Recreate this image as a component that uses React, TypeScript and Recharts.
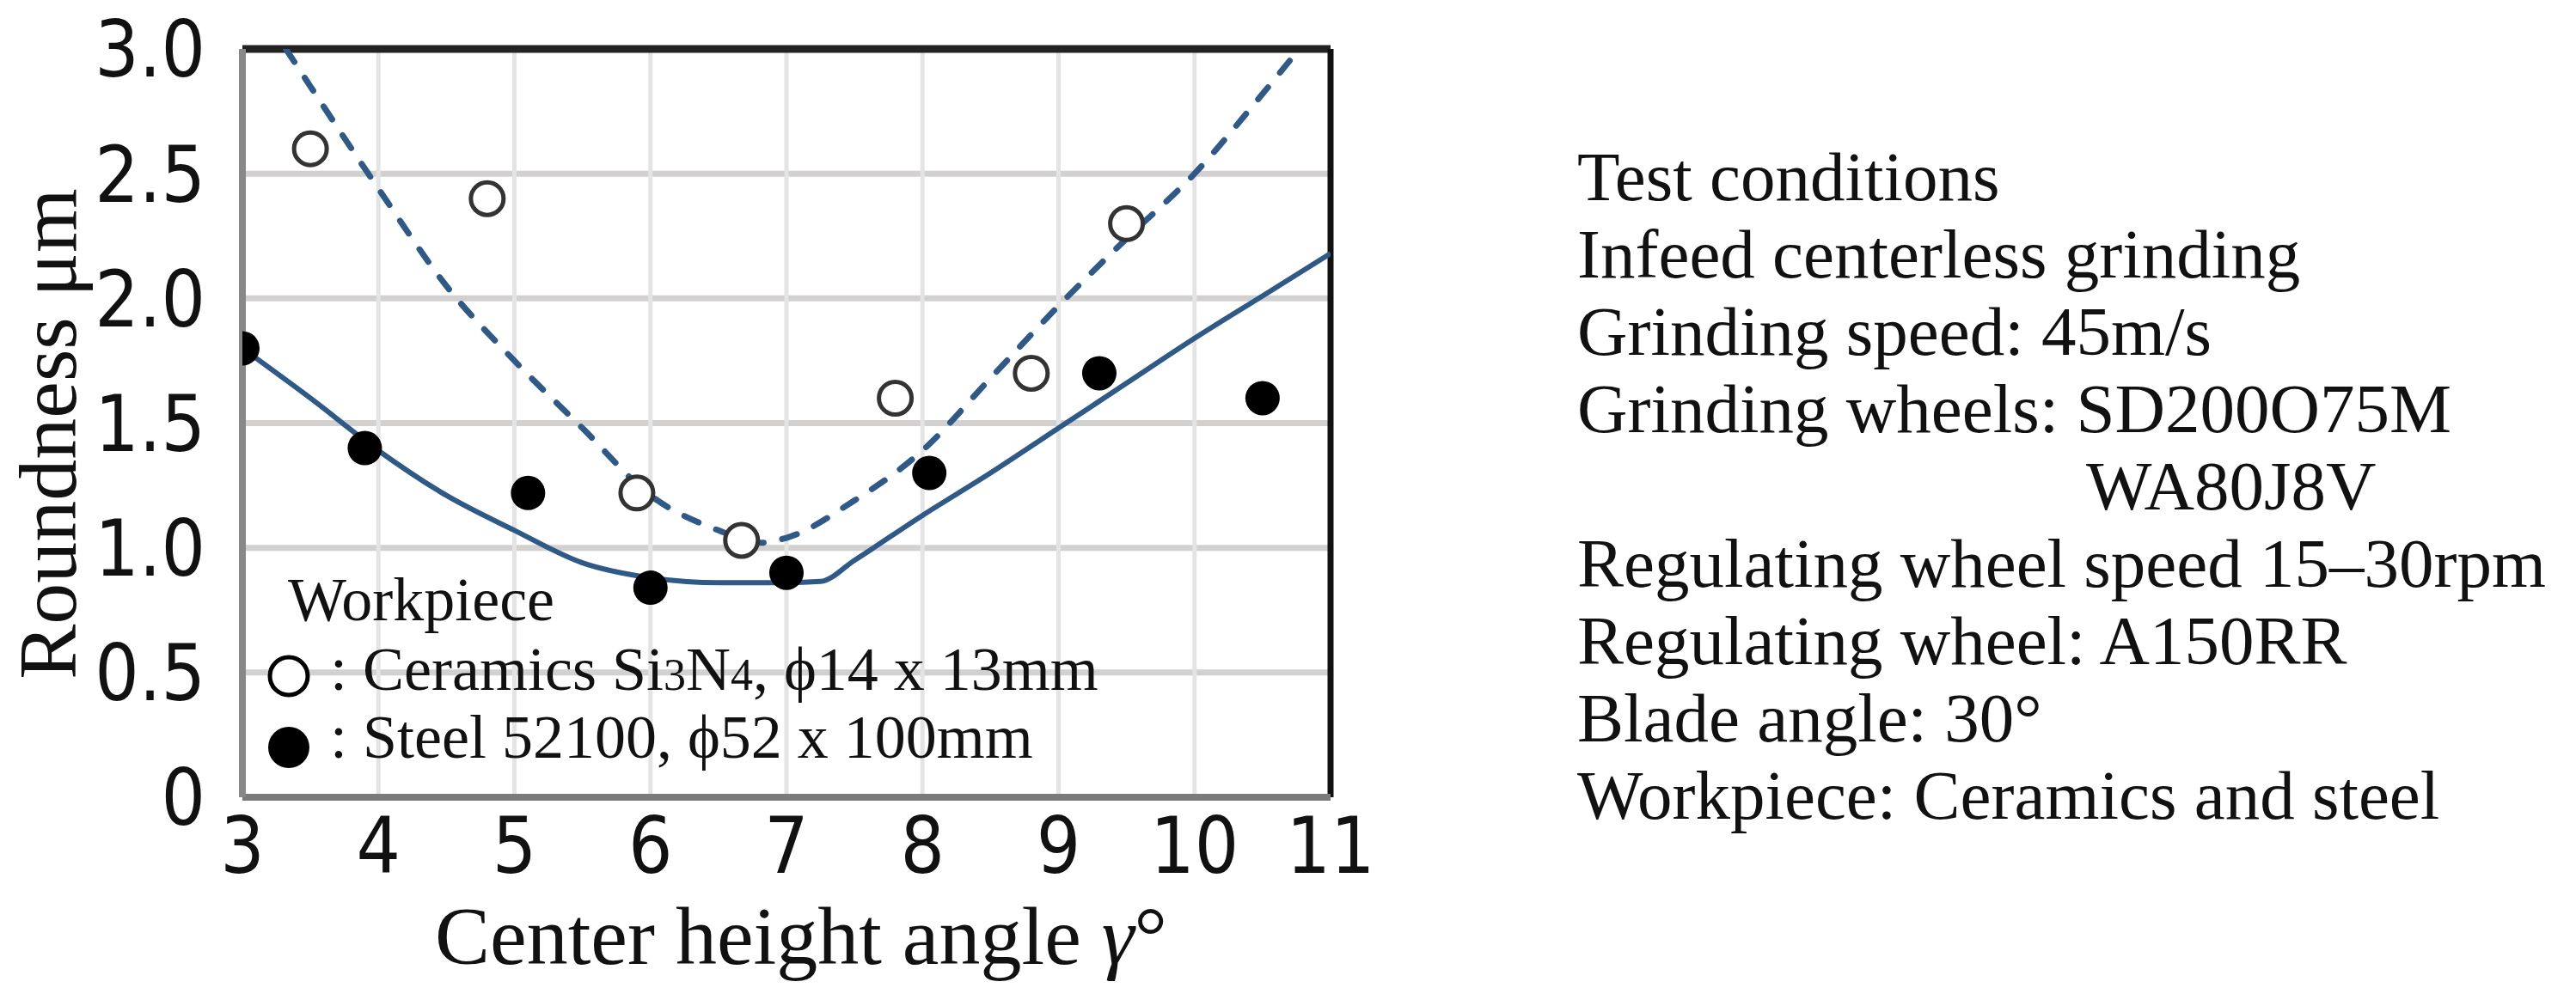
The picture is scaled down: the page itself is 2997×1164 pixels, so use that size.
import React from 'react';
import { ComposedChart, Line, Scatter, XAxis, YAxis, CartesianGrid, ReferenceLine } from 'recharts';

const W = 2997;
const H = 1164;

const xTicks = [3, 4, 5, 6, 7, 8, 9, 10, 11];
const yTicks = [0, 0.5, 1, 1.5, 2, 2.5, 3];

// measured points
const ceramicsX = [3.5, 4.8, 5.9, 6.67, 7.8, 8.8, 9.5];
const ceramicsY = [2.6, 2.4, 1.22, 1.03, 1.6, 1.7, 2.3];
const steelX = [3.0, 3.9, 5.1, 6.0, 7.0, 8.05, 9.3, 10.5];
const steelY = [1.8, 1.4, 1.22, 0.84, 0.9, 1.3, 1.7, 1.6];

// fitted curves
const ceramicsFitX = [3.32, 3.5, 4.0, 4.5, 5.0, 5.5, 6.0, 6.5, 6.8, 7.0, 7.5, 8.0, 8.5, 9.0, 9.5, 10.0, 10.5, 10.77];
const ceramicsFitY = [3.0, 2.85, 2.44, 2.05, 1.75, 1.48, 1.21, 1.07, 1.02, 1.04, 1.19, 1.39, 1.68, 1.97, 2.24, 2.5, 2.82, 3.0];
const steelFitX = [3.0, 3.5, 4.0, 4.5, 5.0, 5.5, 6.0, 6.5, 7.0, 7.25, 7.5, 8.0, 8.5, 9.0, 9.5, 10.0, 10.5, 11.0];
const steelFitY = [1.8, 1.6, 1.39, 1.21, 1.07, 0.94, 0.88, 0.86, 0.86, 0.865, 0.95, 1.13, 1.3, 1.48, 1.66, 1.84, 2.01, 2.18];

const conditions = [
  'Test conditions',
  'Infeed centerless grinding',
  'Grinding speed: 45m/s',
  'Grinding wheels: SD200O75M',
  'WA80J8V',
  'Regulating wheel speed 15–30rpm',
  'Regulating wheel: A150RR',
  'Blade angle: 30°',
  'Workpiece: Ceramics and steel',
];

const zip = (xs: number[], ys: number[]) => xs.map((x, i) => ({ x, y: ys[i] }));

const SERIF = "'Liberation Serif', 'DejaVu Serif', serif";
const NARROW = "'Liberation Sans Narrow', 'DejaVu Sans Condensed', Lato, sans-serif";
const LINE = '#2f5a87';

const XTick = (props: any) => (
  <text x={props.x} y={1016} textAnchor="middle" fontFamily={NARROW} fontSize={90} fill="#111">
    {props.payload.value}
  </text>
);

const YTick = (props: any) => {
  const v = props.payload.value;
  return (
    <text x={239} y={props.y} dy="0.36em" textAnchor="end" fontFamily={NARROW} fontSize={90} fill="#111">
      {v === 0 ? '0' : v.toFixed(1)}
    </text>
  );
};

export default function App() {
  return (
    <div style={{ position: 'relative', width: W, height: H, background: '#fff' }}>
      <style>{'body{margin:0}'}</style>
      <ComposedChart width={W} height={H} margin={{ top: 57, right: 1449, bottom: 136, left: 182 }}>
        <CartesianGrid vertical={false} stroke="#d3d0d0" strokeWidth={7} />
        <CartesianGrid horizontal={false} stroke="#e4e4e4" strokeWidth={5} />
        <XAxis
          type="number"
          dataKey="x"
          domain={[3, 11]}
          ticks={xTicks}
          interval={0}
          allowDataOverflow
          height={100}
          tickLine={false}
          axisLine={{ stroke: '#7b7b7b', strokeWidth: 8 }}
          tick={XTick}
        />
        <YAxis
          type="number"
          dataKey="y"
          domain={[0, 3]}
          ticks={yTicks}
          interval={0}
          allowDataOverflow
          width={100}
          tickLine={false}
          axisLine={{ stroke: '#888', strokeWidth: 8 }}
          tick={YTick}
        />
        <ReferenceLine y={3} stroke="#222" strokeWidth={9} />
        <ReferenceLine x={11} stroke="#111" strokeWidth={7} />
        <Line
          data={zip(steelFitX, steelFitY)}
          dataKey="y"
          type="monotone"
          stroke={LINE}
          strokeWidth={6}
          dot={false}
          isAnimationActive={false}
        />
        <Line
          data={zip(ceramicsFitX, ceramicsFitY)}
          dataKey="y"
          type="monotone"
          stroke={LINE}
          strokeWidth={7}
          strokeDasharray="18 22"
          strokeLinecap="round"
          dot={false}
          isAnimationActive={false}
        />
        <Scatter
          data={zip(ceramicsX, ceramicsY)}
          isAnimationActive={false}
          shape={(p: any) => <circle cx={p.cx} cy={p.cy} r={19} fill="#fff" stroke="#333" strokeWidth={5} />}
        />
        <Scatter
          data={zip(steelX, steelY)}
          isAnimationActive={false}
          shape={(p: any) => <circle cx={p.cx} cy={p.cy} r={20} fill="#000" />}
        />
      </ComposedChart>

      <svg width={W} height={H} style={{ position: 'absolute', left: 0, top: 0, pointerEvents: 'none' }}>
        <text transform="translate(88,505) rotate(-90)" textAnchor="middle" fontFamily={SERIF} fontSize={96} fill="#111">
          Roundness μm
        </text>
        <text x={932} y={1122} textAnchor="middle" fontFamily={SERIF} fontSize={96} fill="#111">
          Center height angle <tspan fontStyle="italic">γ</tspan>°
        </text>

        <text x={335} y={722} fontFamily={SERIF} fontSize={72} fill="#111">Workpiece</text>
        <circle cx={336} cy={787} r={22} fill="#fff" stroke="#000" strokeWidth={5} />
        <text x={384} y={803} fontFamily={SERIF} fontSize={72} fill="#111">
          : Ceramics Si<tspan fontSize={52}>3</tspan>N<tspan fontSize={52}>4</tspan>, ϕ14 x 13mm
        </text>
        <circle cx={336} cy={870} r={24} fill="#000" />
        <text x={384} y={882} fontFamily={SERIF} fontSize={72} fill="#111">
          : Steel 52100, ϕ52 x 100mm
        </text>

        {conditions.map((t, i) => (
          <text key={t} x={t === 'WA80J8V' ? 2427 : 1835} y={233 + 90 * i} fontFamily={SERIF} fontSize={81} fill="#111">
            {t}
          </text>
        ))}
      </svg>
    </div>
  );
}
